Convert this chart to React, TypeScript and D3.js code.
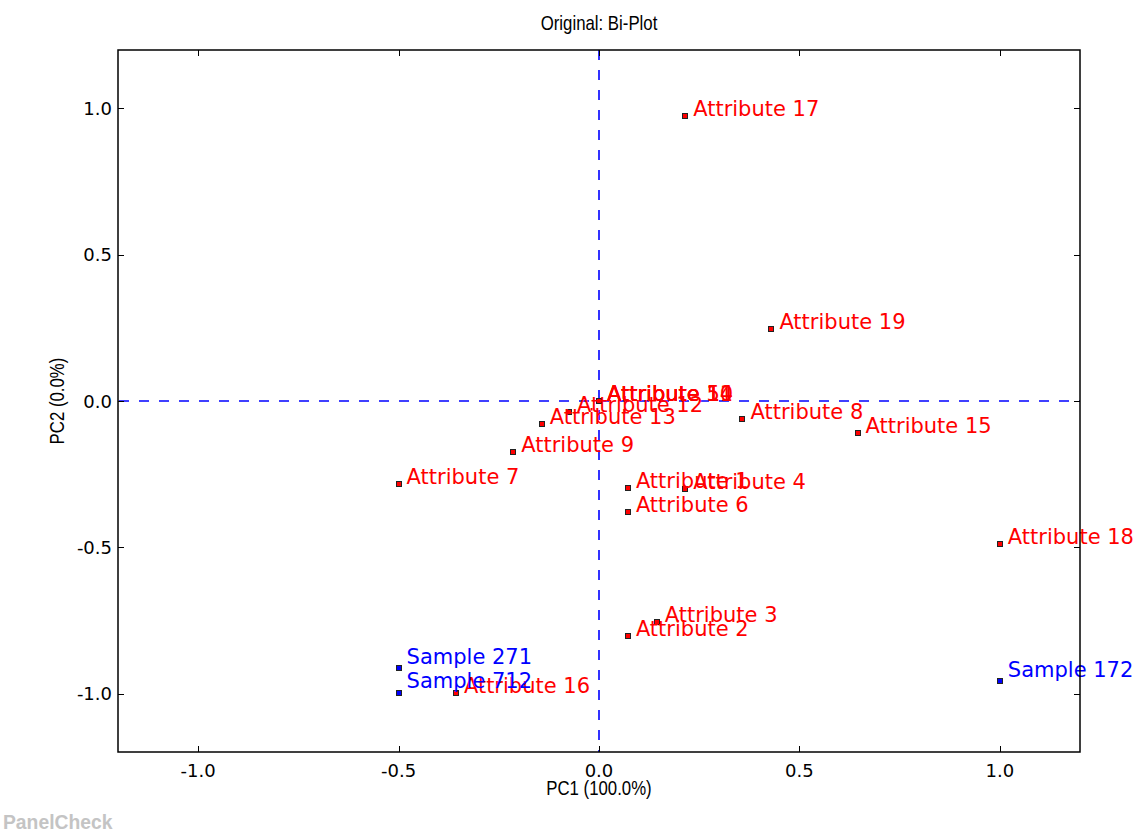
import React from "react";
import * as d3 from "d3";

const attrNames = ["Attribute 1","Attribute 2","Attribute 3","Attribute 4","Attribute 5","Attribute 6","Attribute 7","Attribute 8","Attribute 9","Attribute 10","Attribute 11","Attribute 12","Attribute 13","Attribute 14","Attribute 15","Attribute 16","Attribute 17","Attribute 18","Attribute 19"];
const attrPC1 = [0.072, 0.072, 0.144, 0.215, 0.0, 0.072, -0.5, 0.358, -0.214, 0.0, 0.0, -0.075, -0.143, 0.0, 0.645, -0.357, 0.215, 1.0, 0.43];
const attrPC2 = [-0.298, -0.802, -0.754, -0.302, 0.001, -0.378, -0.284, -0.062, -0.173, 0.001, 0.001, -0.038, -0.079, 0.001, -0.109, -0.999, 0.974, -0.489, 0.246];

const sampleNames = ["Sample 271", "Sample 712", "Sample 172"];
const samplePC1 = [-0.5, -0.5, 1.0];
const samplePC2 = [-0.914, -0.997, -0.957];

const xTicks = [-1.0, -0.5, 0.0, 0.5, 1.0];
const yTicks = [-1.0, -0.5, 0.0, 0.5, 1.0];

export default function App() {
  const W = 1133, H = 832;
  const L = 118, R = 1080, T = 50, B = 752;
  const x = d3.scaleLinear().domain([-1.2, 1.2]).range([L, R]);
  const y = d3.scaleLinear().domain([-1.2, 1.2]).range([B, T]);
  const fmt = (v: number) => d3.format(".1f")(v).replace("\u2212", "-");
  const ls = "'Liberation Sans', Arial, sans-serif";
  const dv = "'DejaVu Sans', sans-serif";
  const off = 0.02;
  const x0 = Math.round(x(0));
  const y0 = Math.round(y(0));

  const marker = (cx: number, cy: number, fill: string, key: string) => (
    <rect key={key} x={Math.round(x(cx)) - 2.5} y={Math.round(y(cy)) - 2.5} width={5} height={5} fill={fill} stroke="#222" strokeWidth={1} />
  );

  return (
    <svg width={W} height={H} style={{ position: "absolute", left: 0, top: 0, background: "#fff" }}>
      <rect x={0} y={0} width={W} height={H} fill="#fff" />
      <text transform={`translate(${x(0)}, 30) scale(0.84, 1)`} textAnchor="middle" fontFamily={ls} fontSize={20} fill="#000">Original: Bi-Plot</text>

      {/* dashed axes */}
      <line x1={L} x2={R} y1={y0} y2={y0} stroke="#0000ff" strokeWidth={1.6} strokeDasharray="10,10" strokeDashoffset={-1} />
      <line x1={x0} x2={x0} y1={T} y2={B} stroke="#0000ff" strokeWidth={1.6} strokeDasharray="10,10" />

      {/* ticks */}
      {xTicks.map((t) => (
        <g key={"xt" + t}>
          <line x1={Math.round(x(t)) + 0.5} x2={Math.round(x(t)) + 0.5} y1={B} y2={B - 6} stroke="#000" />
          <line x1={Math.round(x(t)) + 0.5} x2={Math.round(x(t)) + 0.5} y1={T} y2={T + 6} stroke="#000" />
          <text x={x(t)} y={B + 25} textAnchor="middle" fontFamily={dv} fontSize={18} fill="#000">{fmt(t)}</text>
        </g>
      ))}
      {yTicks.map((t) => (
        <g key={"yt" + t}>
          <line x1={L} x2={L + 6} y1={Math.round(y(t)) + 0.5} y2={Math.round(y(t)) + 0.5} stroke="#000" />
          <line x1={R} x2={R - 6} y1={Math.round(y(t)) + 0.5} y2={Math.round(y(t)) + 0.5} stroke="#000" />
          <text x={L - 6} y={y(t) + 6.5} textAnchor="end" fontFamily={dv} fontSize={18} fill="#000">{fmt(t)}</text>
        </g>
      ))}

      {/* attributes */}
      {attrNames.map((n, i) => marker(attrPC1[i], attrPC2[i], "#ff0000", "am" + i))}
      {attrNames.map((n, i) => (
        <text key={"al" + i} x={x(attrPC1[i] + off)} y={y(attrPC2[i])} fontFamily={dv} fontSize={21} fill="#ff0000">{n}</text>
      ))}

      {/* samples */}
      {sampleNames.map((n, i) => marker(samplePC1[i], samplePC2[i], "#0000ff", "sm" + i))}
      {sampleNames.map((n, i) => (
        <text key={"sl" + i} x={x(samplePC1[i] + off)} y={y(samplePC2[i] + 0.015)} fontFamily={dv} fontSize={21} fill="#0000ff">{n}</text>
      ))}

      {/* frame */}
      <rect x={L} y={T} width={R - L} height={B - T} fill="none" stroke="#000" strokeWidth={1.5} />

      <text transform={`translate(${x(0)}, 795) scale(0.84, 1)`} textAnchor="middle" fontFamily={ls} fontSize={20} fill="#000">PC1 (100.0%)</text>
      <text transform={`translate(64, ${y(0)}) rotate(-90) scale(0.84, 1)`} textAnchor="middle" fontFamily={ls} fontSize={20} fill="#000">PC2 (0.0%)</text>

      <text transform="translate(3, 829) scale(0.92, 1)" fontFamily={ls} fontSize={21} fontWeight="bold" fill="#c4c4c4">PanelCheck</text>
    </svg>
  );
}
